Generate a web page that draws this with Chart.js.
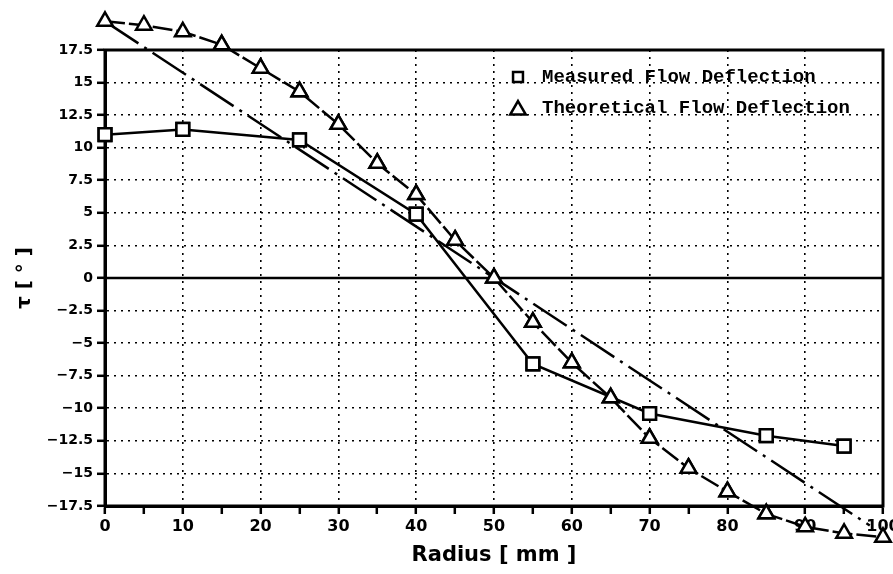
<!DOCTYPE html>
<html><head><meta charset="utf-8">
<script src="https://cdn.jsdelivr.net/npm/chart.js@4/dist/chart.umd.min.js"></script>
<style>html,body{margin:0;padding:0;background:#fff}#wrap{width:893px;height:574px}</style>
</head><body><div id="wrap"><canvas id="c" width="893" height="574"></canvas></div>
<script>
// ---- data ----
const radiusMeasured = [0, 10, 25, 40, 55, 70, 85, 95];
const measuredDeflection = [11.0, 11.4, 10.6, 4.9, -6.6, -10.4, -12.1, -12.9];
const radiusTheoretical = [0, 5, 10, 15, 20, 25, 30, 35, 40, 45, 50, 55, 60, 65, 70, 75, 80, 85, 90, 95, 100];
const theoreticalDeflection = [19.7, 19.4, 18.9, 17.9, 16.1, 14.3, 11.8, 8.8, 6.4, 2.9, 0, -3.4, -6.5, -9.2, -12.3, -14.6, -16.4, -18.1, -19.1, -19.6, -19.9];
const trendRadius = [0, 98.3];
const trendDeflection = [19.7, -19.0];
const xTickValues = [0, 10, 20, 30, 40, 50, 60, 70, 80, 90, 100];
const xMinorTickValues = [5, 15, 25, 35, 45, 55, 65, 75, 85, 95];
const yTickValues = [-17.5, -15, -12.5, -10, -7.5, -5, -2.5, 0, 2.5, 5, 7.5, 10, 12.5, 15, 17.5];
const seriesNames = ['Measured Flow Deflection', 'Theoretical Flow Deflection'];
const xTitle = 'Radius [ mm ]';
const yTitle = 'τ [ ° ]';

const pts = (xs, ys) => xs.map((x, i) => ({x: x, y: ys[i]}));

const framePlugin = {
  id: 'frame',
  beforeDatasetsDraw(chart) {
    const ctx = chart.ctx, a = chart.chartArea, ys = chart.scales.y;
    ctx.save();
    ctx.strokeStyle = '#000';
    ctx.setLineDash([]);
    ctx.lineWidth = 2.5;
    const y0 = ys.getPixelForValue(0);
    ctx.beginPath(); ctx.moveTo(a.left, y0); ctx.lineTo(a.right, y0); ctx.stroke();
    ctx.lineWidth = 3;
    ctx.strokeRect(a.left, a.top, a.right - a.left, a.bottom - a.top);
    ctx.restore();
  },
  afterDatasetsDraw(chart) {
    // let the library's own point elements draw also where they lie outside the plot frame
    const ctx = chart.ctx;
    const big = {left: 0, top: 0, right: chart.width, bottom: chart.height};
    chart.data.datasets.forEach((ds, i) => {
      const meta = chart.getDatasetMeta(i);
      ctx.save();
      meta.data.forEach(el => el.draw(ctx, big));
      ctx.restore();
    });
  },
  afterDraw(chart) {
    const ctx = chart.ctx, a = chart.chartArea;
    ctx.save();
    const mx = a.left + 413, tx = a.left + 437;
    const rows = [a.top + 27, a.top + 58];
    const styles = ['rect', 'triangle'];
    const radii = [7, 9];
    for (let i = 0; i < 2; i++) {
      ctx.strokeStyle = '#000'; ctx.fillStyle = '#fff'; ctx.lineWidth = 2.5;
      Chart.helpers.drawPoint(ctx, {pointStyle: styles[i], radius: radii[i], borderWidth: 2.5, rotation: 0}, mx, rows[i] + (i === 1 ? 2 : 0));
      ctx.fillStyle = '#000';
      ctx.font = 'bold 19px "Liberation Mono"';
      ctx.textBaseline = 'middle';
      ctx.textAlign = 'left';
      ctx.fillText(seriesNames[i], tx, rows[i]);
    }
    ctx.restore();
  }
};

new Chart(document.getElementById('c'), {
  type: 'line',
  data: {
    datasets: [
      {
        label: seriesNames[0],
        data: pts(radiusMeasured, measuredDeflection),
        borderColor: '#000', borderWidth: 2.5,
        pointStyle: 'rect', pointRadius: 9, pointBorderWidth: 2.5,
        pointBackgroundColor: '#fff', pointBorderColor: '#000',
        tension: 0, clip: false, fill: false
      },
      {
        label: seriesNames[1],
        data: pts(radiusTheoretical, theoreticalDeflection),
        borderColor: '#000', borderWidth: 2.5, borderDash: [20, 4],
        pointStyle: 'triangle', pointRadius: 9, pointBorderWidth: 2.5,
        pointBackgroundColor: '#fff', pointBorderColor: '#000',
        tension: 0, clip: false, fill: false
      },
      {
        label: 'dash-dot line',
        data: pts(trendRadius, trendDeflection),
        borderColor: '#000', borderWidth: 2.5, borderDash: [40, 7, 3, 7],
        pointRadius: 0, tension: 0, clip: false, fill: false
      }
    ]
  },
  options: {
    responsive: false,
    animation: false,
    devicePixelRatio: 1,
    layout: {padding: {top: 50, right: 10, left: 0, bottom: 0}, autoPadding: false},
    plugins: {legend: {display: false}, tooltip: {enabled: false}},
    scales: {
      x: {
        type: 'linear', min: 0, max: 100,
        afterBuildTicks: (s) => { s.ticks = xTickValues.concat(xMinorTickValues).sort((p, q) => p - q).map(v => ({value: v})); },
        afterFit: (s) => { s.height = 68; s.paddingLeft = 0; s.paddingRight = 0; },
        ticks: {
          autoSkip: false, maxRotation: 0, padding: 3, color: '#000',
          font: {family: '"DejaVu Sans"', weight: 'bold', size: 16},
          callback: (v) => xTickValues.includes(v) ? String(v) : ''
        },
        grid: {
          color: (c) => (c.tick && xTickValues.includes(c.tick.value)) ? '#000' : 'rgba(0,0,0,0)',
          lineWidth: 1.6, tickColor: '#000', tickWidth: 2.5, tickLength: 8, tickBorderDash: []
        },
        border: {display: true, color: '#000', width: 3, dash: [2, 5]},
        title: {display: true, text: xTitle, color: '#000', font: {family: '"DejaVu Sans"', weight: 'bold', size: 21}, padding: {top: 6, bottom: 6}}
      },
      y: {
        type: 'linear', min: -17.5, max: 17.5,
        afterBuildTicks: (s) => { s.ticks = yTickValues.map(v => ({value: v})); },
        afterFit: (s) => { s.width = 105; s.paddingTop = 0; s.paddingBottom = 0; },
        ticks: {
          autoSkip: false, padding: 4, color: '#000',
          font: {family: '"DejaVu Sans"', weight: 'bold', size: 14},
          callback: (v) => String(v).replace('-', '\u2212')
        },
        grid: {
          color: (c) => (c.tick && c.tick.value === 0) ? 'rgba(0,0,0,0)' : '#000',
          lineWidth: 1.6, tickColor: '#000', tickWidth: 2.5, tickLength: 8, tickBorderDash: []
        },
        border: {display: true, color: '#000', width: 3, dash: [2, 5]},
        title: {display: true, text: yTitle, color: '#000', font: {family: '"DejaVu Sans"', weight: 'bold', size: 20}, padding: {top: 13, bottom: 13}}
      }
    }
  },
  plugins: [framePlugin]
});
</script></body></html>
